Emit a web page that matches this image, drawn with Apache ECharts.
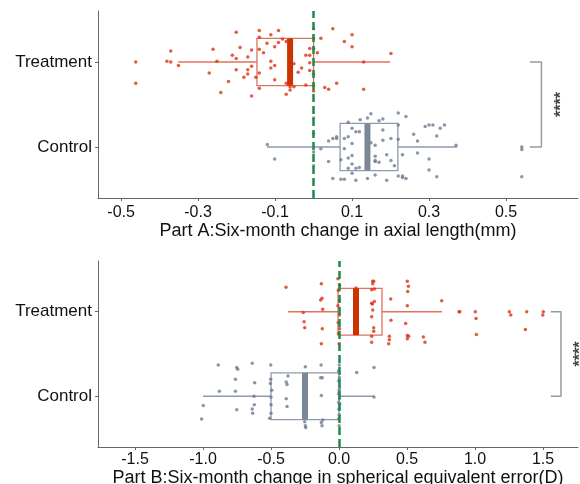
<!DOCTYPE html>
<html>
<head>
<meta charset="utf-8">
<script src="https://cdn.jsdelivr.net/npm/echarts@6/dist/echarts.min.js"></script>
<style>
  html, body { margin: 0; padding: 0; background: #fff; }
  #main { width: 580px; height: 484px; }
</style>
</head>
<body>
<div id="main"></div>
<script>
// category names (value 1 = Control, value 2 = Treatment)
var groups = ['Control', 'Treatment'];

// Part A: axial length change (mm); points are [value, vertical jitter]
var axialTreatment = [
  [-0.462, 0], [-0.462, -0.25], [-0.371, 0.13], [-0.381, 0.01], [-0.371, 0], [-0.351, -0.04],
  [-0.271, -0.13], [-0.261, 0.15], [-0.251, 0.01], [-0.241, -0.36], [-0.221, -0.23], [-0.211, 0.08],
  [-0.201, 0.35], [-0.201, 0.04], [-0.201, -0.09], [-0.191, 0.17], [-0.181, -0.18], [-0.171, 0.06],
  [-0.171, -0.09], [-0.171, -0.14], [-0.161, 0.14], [-0.161, -0.05], [-0.161, -0.40], [-0.150, -0.18],
  [-0.141, 0.37], [-0.141, 0.29], [-0.141, 0.15], [-0.141, -0.13], [-0.141, -0.31], [-0.130, 0.11],
  [-0.121, 0.22], [-0.111, 0.32], [-0.111, 0.01], [-0.111, -0.07], [-0.101, 0.18], [-0.101, -0.04],
  [-0.101, -0.21], [-0.091, 0.37], [-0.091, 0.23], [-0.081, 0.27], [-0.071, 0.24], [-0.071, -0.25],
  [-0.071, -0.38], [-0.061, -0.29], [-0.061, -0.33], [-0.051, -0.02], [-0.051, -0.29], [-0.040, -0.12],
  [-0.031, -0.07], [-0.020, 0.08], [-0.020, -0.27], [-0.010, 0.16], [-0.010, 0.08], [-0.010, -0.01],
  [-0.010, -0.10], [0, 0.39], [0, 0.28], [0, 0.16], [0, -0.14], [0, -0.28], [0, -0.34],
  [0.010, 0.11], [0.019, 0.28], [0.029, -0.30], [0.039, -0.32], [0.050, 0.39], [0.060, -0.25],
  [0.080, 0.24], [0.100, 0.32], [0.100, 0.18], [0.130, 0.00], [0.130, -0.32], [0.201, 0.10]
];
var axialControl = [
  [-0.120, 0.03], [-0.101, -0.14], [0, 0.34], [0, 0.16], [0, -0.06], [0, -0.22], [0.019, -0.02],
  [0.039, 0.07], [0.039, -0.17], [0.050, 0.10], [0.050, -0.37], [0.060, 0.12], [0.060, 0.10],
  [0.071, -0.15], [0.071, -0.38], [0.080, 0.10], [0.080, -0.02], [0.080, -0.38], [0.090, 0.29],
  [0.090, 0.12], [0.090, -0.13], [0.090, -0.25], [0.100, 0.22], [0.100, 0.04], [0.100, -0.10],
  [0.100, -0.20], [0.100, -0.31], [0.110, 0.18], [0.110, -0.25], [0.110, -0.39], [0.119, 0.18],
  [0.119, -0.24], [0.121, 0.32], [0.140, 0.34], [0.140, -0.37], [0.149, 0.39], [0.149, 0.05],
  [0.160, 0.02], [0.160, -0.11], [0.160, -0.16], [0.160, -0.17], [0.160, -0.33], [0.170, 0.31],
  [0.170, -0.18], [0.180, 0.33], [0.180, 0.20], [0.180, 0.08], [0.190, -0.09], [0.190, -0.39],
  [0.201, 0.10], [0.201, -0.16], [0.210, -0.22], [0.220, 0.40], [0.220, 0.26], [0.220, 0.09],
  [0.220, -0.34], [0.231, -0.09], [0.231, -0.34], [0.231, -0.36], [0.240, 0.36], [0.240, -0.37],
  [0.260, 0.15], [0.270, 0.07], [0.270, -0.07], [0.290, 0.24], [0.300, 0.26], [0.300, -0.14],
  [0.300, -0.27], [0.310, 0.26], [0.320, 0.13], [0.320, -0.35], [0.329, 0.22], [0.340, 0.26],
  [0.370, 0.02], [0.541, 0.00], [0.541, -0.03], [0.541, -0.35]
];
// box stats: [whiskerLow, Q1, median, Q3, whiskerHigh]
var axialTreatmentBox = [-0.352, -0.147, -0.061, 0.0, 0.199];
var axialControlBox = [-0.121, 0.069, 0.140, 0.219, 0.373];

// Part B: spherical equivalent change (D)
var seTreatment = [
  [-0.390, 0.29], [-0.263, -0.01], [-0.257, -0.12], [-0.252, -0.19], [-0.135, 0.14], [-0.130, 0.33],
  [-0.130, -0.38], [-0.125, 0.16], [-0.120, 0.03], [-0.123, -0.20],
  [-0.008, 0.39], [0.004, 0.31], [-0.005, 0.25], [0.003, 0.13], [-0.008, 0.07], [0.002, -0.04],
  [-0.006, -0.13], [0.004, -0.20], [-0.004, -0.26], [0.001, -0.38],
  [0.125, 0.28], [0.240, 0.26], [0.248, 0.36], [0.255, 0.36], [0.248, 0.33], [0.260, 0.27],
  [0.240, 0.10], [0.245, 0.09], [0.260, 0.12], [0.248, 0.02], [0.240, -0.06], [0.255, -0.19],
  [0.255, -0.23], [0.240, -0.29], [0.240, -0.36], [0.380, 0.15], [0.382, -0.10], [0.370, -0.29],
  [0.370, -0.33], [0.365, -0.38], [0.502, 0.36], [0.510, 0.30], [0.505, 0.24], [0.502, 0.07],
  [0.490, -0.14], [0.502, -0.28], [0.512, -0.29], [0.502, -0.32], [0.620, -0.30], [0.632, -0.36],
  [0.755, 0.13], [0.882, 0], [0.888, 0], [1.002, 0], [1.007, -0.08], [1.010, -0.27],
  [1.252, 0], [1.263, -0.04], [1.370, -0.21], [1.380, 0], [1.502, 0], [1.498, -0.04]
];
var seControl = [
  [-1.010, -0.27], [-0.998, -0.11], [-0.888, 0.37], [-0.880, 0.06], [-0.762, 0.06], [-0.762, 0.20],
  [-0.752, 0.34], [-0.745, 0.32], [-0.752, -0.16], [-0.638, 0.39], [-0.620, 0.16], [-0.625, 0],
  [-0.623, -0.10], [-0.638, -0.15], [-0.635, -0.20], [-0.502, 0.37], [-0.502, 0.20], [-0.505, 0.15],
  [-0.495, 0.07], [-0.500, -0.01], [-0.500, -0.10], [-0.500, -0.20], [-0.510, -0.26], [-0.375, 0.24],
  [-0.388, 0.17], [-0.382, 0.14], [-0.388, -0.03], [-0.382, -0.12], [-0.248, 0.35], [-0.252, -0.30],
  [-0.248, -0.35], [-0.245, -0.37], [-0.132, 0.37], [-0.135, 0.22], [-0.123, 0.22], [-0.130, 0.01],
  [-0.120, -0.28], [-0.130, -0.31], [-0.125, -0.35],
  [0.002, 0.37], [-0.004, 0.30], [0.003, 0.22], [-0.002, 0.18], [0.004, 0.10], [0.001, 0.07],
  [-0.003, 0.03], [0.003, -0.03], [-0.002, -0.07], [0.005, -0.09], [-0.001, -0.15], [0.002, -0.22],
  [-0.003, -0.27], [0.001, -0.35],
  [0.130, 0.28], [0.257, 0.34], [0.257, -0.01]
];
var seTreatmentBox = [-0.375, -0.007, 0.125, 0.316, 0.757];
var seControlBox = [-1.0, -0.5, -0.25, 0.0, 0.257];

// x tick labels
var axialTicks = [-0.5, -0.3, -0.1, 0.1, 0.3, 0.5];
var seTicks = [-1.5, -1.0, -0.5, 0.0, 0.5, 1.0, 1.5];

// significance brackets [x, y] and star positions
var axialBracket = [[0.562, 2], [0.592, 2], [0.592, 1], [0.562, 1]];
var seBracket = [[1.557, 2], [1.632, 2], [1.632, 1], [1.557, 1]];
var axialStars = [[0.633, 1.5]];
var seStars = [[1.743, 1.5]];

var FONT = 'Liberation Sans, Arial, sans-serif';
var RED = '#dc3214', RED_LINE = '#e0705f', RED_MED = '#cc3300';
var GREY = '#6e7c91', GREY_LINE = '#8e9aab', GREY_MED = '#7a8797';
var BOX_HALF = 0.277;

var dom = document.getElementById('main');
var myChart = echarts.init(dom);

function withJitter(points, cat) {
    return points.map(function (p) { return [p[0], cat + p[1]]; });
}

function renderBox(params, api) {
    var cat = api.value(0);
    var lo = api.coord([api.value(1), cat]);
    var q1 = api.coord([api.value(2), cat]);
    var med = api.coord([api.value(3), cat]);
    var q3 = api.coord([api.value(4), cat]);
    var hi = api.coord([api.value(5), cat]);
    var top = api.coord([api.value(3), cat + BOX_HALF])[1];
    var bot = api.coord([api.value(3), cat - BOX_HALF])[1];
    var treat = cat === 2;
    var lineColor = treat ? RED_LINE : GREY_LINE;
    var medColor = treat ? RED_MED : GREY_MED;
    var ls = { stroke: lineColor, lineWidth: 1.3, fill: null };
    return {
        type: 'group',
        children: [
            { type: 'line', shape: { x1: lo[0], y1: lo[1], x2: q1[0], y2: q1[1] }, style: ls },
            { type: 'line', shape: { x1: q3[0], y1: q3[1], x2: hi[0], y2: hi[1] }, style: ls },
            { type: 'rect', shape: { x: q1[0], y: top, width: q3[0] - q1[0], height: bot - top }, style: ls },
            { type: 'rect', shape: { x: med[0] - 3, y: top, width: 6, height: bot - top }, style: { fill: medColor } }
        ]
    };
}

function xAxisFor(idx, min, max, ticks, name, margin, gap) {
    return {
        type: 'value', gridIndex: idx, min: min, max: max,
        name: name, nameLocation: 'middle', nameGap: gap,
        nameTextStyle: { fontFamily: FONT, fontSize: 18, color: '#111' },
        axisLine: { show: true, onZero: false, lineStyle: { color: '#666', width: 1 } },
        axisTick: { show: true, length: 3, customValues: ticks, lineStyle: { color: '#666' } },
        axisLabel: {
            customValues: ticks, margin: margin, fontFamily: FONT, fontSize: 16, color: '#111',
            formatter: function (v) { return v.toFixed(1); }
        },
        splitLine: { show: false }
    };
}

function yAxisFor(idx) {
    return {
        type: 'value', gridIndex: idx, min: 0.4, max: 2.6,
        axisLine: { show: true, onZero: false, lineStyle: { color: '#666', width: 1 } },
        axisTick: { show: true, length: 3, customValues: [1, 2], lineStyle: { color: '#666' } },
        axisLabel: {
            customValues: [1, 2], margin: 6, fontFamily: FONT, fontSize: 17, color: '#111',
            formatter: function (v) { return groups[Math.round(v) - 1]; }
        },
        splitLine: { show: false }
    };
}

function zeroLine() {
    return {
        silent: true, symbol: 'none', animation: false,
        label: { show: false },
        lineStyle: { color: '#1f8a4c', width: 2.5, type: [8, 4] },
        data: [{ xAxis: 0 }]
    };
}

function panelSeries(idx, treatPts, ctrlPts, treatBox, ctrlBox, bracket, stars) {
    return [
        {
            type: 'custom', xAxisIndex: idx, yAxisIndex: idx, renderItem: renderBox,
            encode: { x: [1, 2, 3, 4, 5], y: 0 },
            data: [[2].concat(treatBox), [1].concat(ctrlBox)], z: 1
        },
        {
            type: 'scatter', xAxisIndex: idx, yAxisIndex: idx, symbolSize: 3.5,
            itemStyle: { color: RED }, data: withJitter(treatPts, 2), z: 2
        },
        {
            type: 'scatter', xAxisIndex: idx, yAxisIndex: idx, symbolSize: 3.5,
            itemStyle: { color: GREY }, data: withJitter(ctrlPts, 1), z: 2,
            markLine: zeroLine()
        },
        {
            type: 'line', xAxisIndex: idx, yAxisIndex: idx, symbol: 'none',
            lineStyle: { color: '#9a9a9a', width: 1.5 }, data: bracket, z: 1
        },
        {
            type: 'scatter', xAxisIndex: idx, yAxisIndex: idx, symbolSize: 0, data: stars,
            label: {
                show: true, position: 'inside', formatter: '****', rotate: 90, offset: [0, 4],
                fontFamily: FONT, fontSize: 16, fontWeight: 'bold', color: '#111'
            }
        }
    ];
}

var option = {
    animation: false,
    backgroundColor: '#fff',
    grid: [
        { left: 98, top: 11, width: 480, height: 187, outerBoundsMode: 'none', containLabel: false },
        { left: 98, top: 261, width: 480, height: 186, outerBoundsMode: 'none', containLabel: false }
    ],
    xAxis: [
        xAxisFor(0, -0.56, 0.687, axialTicks, 'Part A:Six-month change in axial length(mm)', 7, 23),
        xAxisFor(1, -1.772, 1.757, seTicks, 'Part B:Six-month change in spherical equivalent error(D)', 5, 22)
    ],
    yAxis: [yAxisFor(0), yAxisFor(1)],
    series: panelSeries(0, axialTreatment, axialControl, axialTreatmentBox, axialControlBox, axialBracket, axialStars)
        .concat(panelSeries(1, seTreatment, seControl, seTreatmentBox, seControlBox, seBracket, seStars))
};

myChart.setOption(option);
</script>
</body>
</html>
